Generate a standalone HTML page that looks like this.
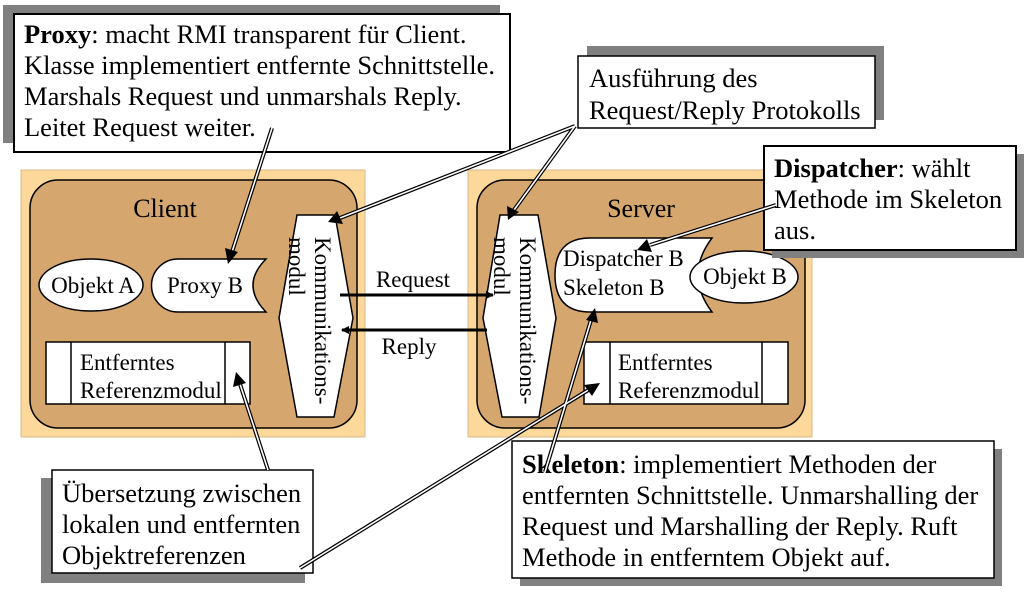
<!DOCTYPE html>
<html><head><meta charset="utf-8"><style>
html,body{margin:0;padding:0;background:#fff;}
svg{display:block;}
text{font-family:"Liberation Serif",serif;fill:#000;}
</style></head><body>
<svg width="1024" height="595" viewBox="0 0 1024 595" xmlns="http://www.w3.org/2000/svg">
<defs>
<marker id="ah" markerWidth="8" markerHeight="8" refX="7" refY="4" orient="auto" markerUnits="userSpaceOnUse">
<path d="M0,0 L8,4 L0,8 z" fill="#000"/></marker>
</defs>

<!-- Client -->
<rect x="21" y="170" width="344" height="267" fill="#fcd89a" stroke="#d9b98a" stroke-width="1"/>
<rect x="30" y="180" width="327" height="248" rx="28" fill="#d6a66f" stroke="#000" stroke-width="1.5"/>
<text x="165" y="217" font-size="26" text-anchor="middle">Client</text>
<ellipse cx="91" cy="285" rx="52" ry="26" fill="#fff" stroke="#000" stroke-width="1.5"/>
<text x="93" y="293" font-size="23" text-anchor="middle">Objekt A</text>
<path d="M178,259 H266 Q240,285 266,312 H178 A26.5,26.5 0 0 1 178,259 z" fill="#fff" stroke="#000" stroke-width="1.5"/>
<text x="205" y="293" font-size="23" text-anchor="middle">Proxy B</text>
<rect x="46" y="342" width="204" height="62" fill="#fff" stroke="#000" stroke-width="1.5"/>
<line x1="71" y1="342" x2="71" y2="404" stroke="#000" stroke-width="1.5"/>
<line x1="225" y1="342" x2="225" y2="404" stroke="#000" stroke-width="1.5"/>
<text x="80" y="370" font-size="23">Entferntes</text>
<text x="80" y="398" font-size="23">Referenzmodul</text>
<polygon points="297,215 335,215 353,318 334,417 297,417 279,318" fill="#fff" stroke="#000" stroke-width="1.5"/>
<text transform="translate(315,237) rotate(90)" font-size="23">Kommunikations-</text>
<text transform="translate(289,237) rotate(90)" font-size="23">modul</text>

<!-- Server -->
<rect x="468" y="170" width="344" height="267" fill="#fcd89a" stroke="#d9b98a" stroke-width="1"/>
<rect x="477" y="180" width="328" height="248" rx="28" fill="#d6a66f" stroke="#000" stroke-width="1.5"/>
<text x="641" y="217" font-size="26" text-anchor="middle">Server</text>
<polygon points="500,215 538,215 556,318 539,417 502,417 483,318" fill="#fff" stroke="#000" stroke-width="1.5"/>
<text transform="translate(520,237) rotate(90)" font-size="23">Kommunikations-</text>
<text transform="translate(494,237) rotate(90)" font-size="23">modul</text>
<path d="M590,238 H712 Q684,275 712,312 H590 Q555,312 555,275 Q555,238 590,238 z" fill="#fff" stroke="#000" stroke-width="1.5"/>
<ellipse cx="744" cy="277" rx="54" ry="26" fill="#fff" stroke="#000" stroke-width="1.5"/>
<text x="563" y="266" font-size="23">Dispatcher B</text>
<text x="563" y="295" font-size="23">Skeleton B</text>
<text x="745" y="284" font-size="23" text-anchor="middle">Objekt B</text>
<rect x="584" y="342" width="204" height="62" fill="#fff" stroke="#000" stroke-width="1.5"/>
<line x1="610" y1="342" x2="610" y2="404" stroke="#000" stroke-width="1.5"/>
<line x1="762" y1="342" x2="762" y2="404" stroke="#000" stroke-width="1.5"/>
<text x="618" y="370" font-size="23">Entferntes</text>
<text x="618" y="398" font-size="23">Referenzmodul</text>

<!-- Request / Reply -->
<line x1="340" y1="295" x2="493" y2="295" stroke="#000" stroke-width="3" marker-end="url(#ah)"/>
<line x1="487" y1="330" x2="342" y2="330" stroke="#000" stroke-width="3" marker-end="url(#ah)"/>
<text x="413" y="287" font-size="23" text-anchor="middle">Request</text>
<text x="409" y="354" font-size="23" text-anchor="middle">Reply</text>

<!-- Callout boxes -->
<rect x="3" y="5" width="497" height="138" fill="#808080"/>
<rect x="14" y="14" width="496" height="138" fill="#fff" stroke="#000" stroke-width="2"/>
<text font-size="26.5"><tspan x="24" y="43"><tspan font-weight="bold">Proxy</tspan>: macht RMI transparent für Client.</tspan><tspan x="24" y="74">Klasse implementiert entfernte Schnittstelle.</tspan><tspan x="24" y="105">Marshals Request und unmarshals Reply.</tspan><tspan x="24" y="136">Leitet Request weiter.</tspan></text>

<rect x="587" y="46" width="297" height="74" fill="#808080"/>
<rect x="578" y="56" width="297" height="72" fill="#fff" stroke="#000" stroke-width="1.5"/>
<text font-size="26.5"><tspan x="589" y="87">Ausführung des</tspan><tspan x="589" y="119">Request/Reply Protokolls</tspan></text>

<rect x="772" y="154" width="252" height="104" fill="#808080"/>
<rect x="764" y="146" width="252" height="104" fill="#fff" stroke="#000" stroke-width="2"/>
<text font-size="26.5"><tspan x="774" y="177"><tspan font-weight="bold">Dispatcher</tspan>: wählt</tspan><tspan x="774" y="208">Methode im Skeleton</tspan><tspan x="774" y="239">aus.</tspan></text>

<rect x="41" y="478" width="264" height="105" fill="#808080"/>
<rect x="52" y="470" width="261" height="103" fill="#fff" stroke="#000" stroke-width="1.5"/>
<text font-size="26.5"><tspan x="62" y="502">Übersetzung zwischen</tspan><tspan x="62" y="533">lokalen und entfernten</tspan><tspan x="62" y="564">Objektreferenzen</tspan></text>

<rect x="520" y="449" width="482" height="137" fill="#808080"/>
<rect x="512" y="441" width="482" height="137" fill="#fff" stroke="#000" stroke-width="1.5"/>
<text font-size="26.5"><tspan x="522" y="473"><tspan font-weight="bold">Skeleton</tspan>: implementiert Methoden der</tspan><tspan x="522" y="504">entfernten Schnittstelle. Unmarshalling der</tspan><tspan x="522" y="535">Request und Marshalling der Reply. Ruft</tspan><tspan x="522" y="566">Methode in entferntem Objekt auf.</tspan></text>

<!-- Callout double arrows -->
<g fill="none">
<g stroke="#000" stroke-width="4">
<line x1="272" y1="128" x2="232" y2="252"/>
<line x1="575" y1="126" x2="340" y2="218"/>
<line x1="575" y1="126" x2="514" y2="210"/>
<line x1="776" y1="205" x2="650" y2="245"/>
<line x1="268" y1="470" x2="240" y2="384"/>
<line x1="300" y1="568" x2="590" y2="389"/>
<line x1="545" y1="472" x2="591" y2="320"/>
</g>
<g stroke="#fff" stroke-width="1.6">
<line x1="272" y1="128" x2="232" y2="252"/>
<line x1="575" y1="126" x2="340" y2="218"/>
<line x1="575" y1="126" x2="514" y2="210"/>
<line x1="776" y1="205" x2="650" y2="245"/>
<line x1="268" y1="470" x2="240" y2="384"/>
<line x1="300" y1="568" x2="590" y2="389"/>
<line x1="545" y1="472" x2="591" y2="320"/>
</g>
</g>
<g fill="#000">
<polygon points="228,264 225,248 238,252"/>
<polygon points="328,222 337,211 343,224"/>
<polygon points="508,220 507,206 519,212"/>
<polygon points="637,250 647,239 652,252"/>
<polygon points="236,372 233,387 246,383"/>
<polygon points="600,383 584,385 592,396"/>
<polygon points="595,308 586,320 598,323"/>
</g>
</svg>
</body></html>
